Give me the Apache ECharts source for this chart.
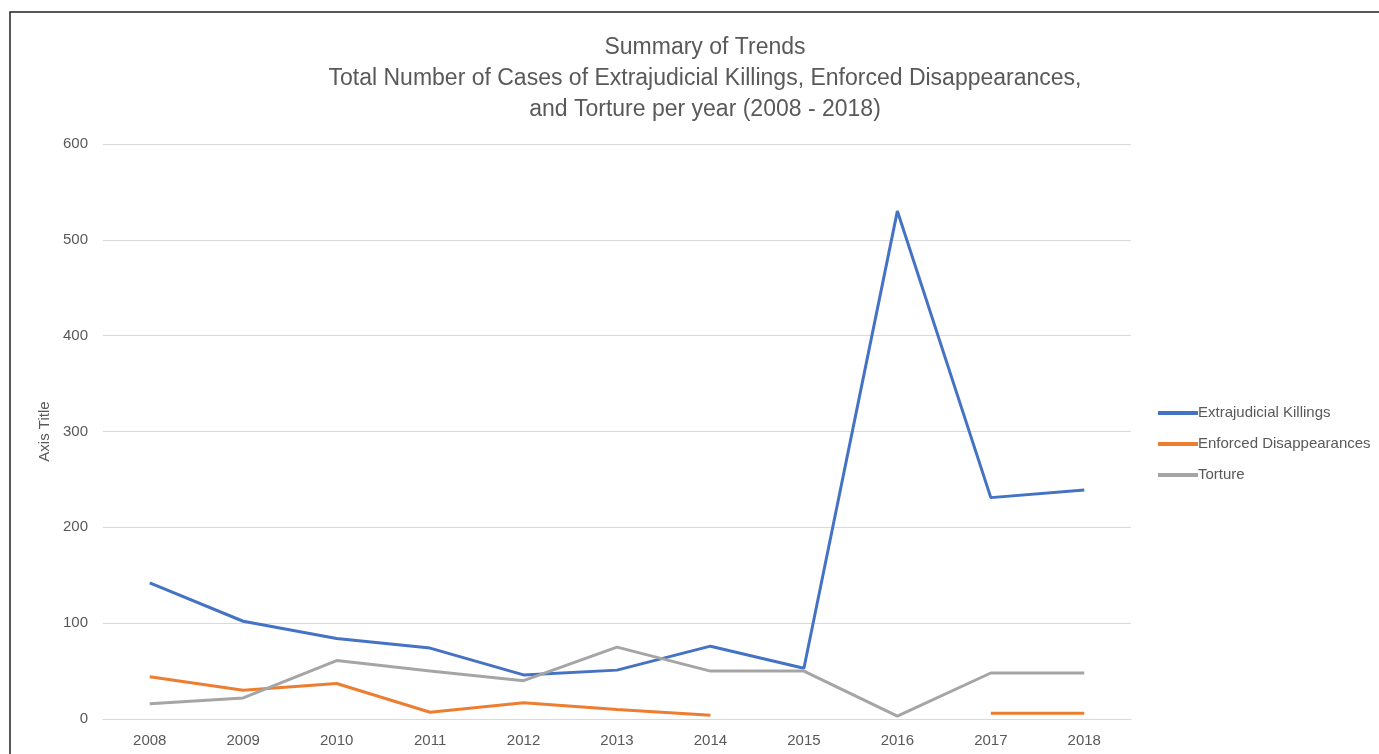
<!DOCTYPE html>
<html>
<head>
<meta charset="utf-8">
<script src="https://cdn.jsdelivr.net/npm/echarts@6/dist/echarts.min.js"></script>
<style>
html,body{margin:0;padding:0;background:#fff;}
#chart{width:1379px;height:754px;}
</style>
</head>
<body>
<div id="chart"></div>
<script>
const years = ['2008','2009','2010','2011','2012','2013','2014','2015','2016','2017','2018'];
const extrajudicialKillings = [142, 102, 84, 74, 46, 51, 76, 53, 530, 231, 239];
const enforcedDisappearances = [44, 30, 37, 7, 17, 10, 4, null, null, 6, 6];
const torture = [16, 22, 61, 50, 40, 75, 50, 50, 3, 48, 48];
const yTicks = [0, 100, 200, 300, 400, 500, 600];

const FONT = '"Liberation Sans", Arial, sans-serif';
const chart = echarts.init(document.getElementById('chart'), null, {renderer: 'canvas'});
chart.setOption({
  animation: false,
  backgroundColor: '#fff',
  title: {
    text: 'Summary of Trends\nTotal Number of Cases of Extrajudicial Killings, Enforced Disappearances,\nand Torture per year (2008 - 2018)',
    left: 700, top: 27, textAlign: 'center',
    textStyle: {fontFamily: FONT, fontSize: 23, fontWeight: 'normal', color: '#595959', lineHeight: 31}
  },
  graphic: [{
    type: 'rect', shape: {x: 10, y: 12, width: 1400, height: 800},
    style: {fill: 'none', stroke: '#222', lineWidth: 1.5}, silent: true
  }],
  legend: {
    orient: 'vertical', left: 1153, top: 399, itemGap: 13, itemWidth: 40, itemHeight: 4,
    icon: 'rect',
    textStyle: {fontFamily: FONT, fontSize: 15, color: '#595959', padding: [0,0,0,-5], lineHeight: 18},
    data: ['Extrajudicial Killings', 'Enforced Disappearances', 'Torture']
  },
  grid: {left: 103, right: 248, top: 144, bottom: 35, containLabel: false},
  xAxis: {
    type: 'category', data: years, boundaryGap: true,
    axisLine: {lineStyle: {color: '#D9D9D9', width: 1}},
    axisTick: {show: false},
    axisLabel: {fontFamily: FONT, fontSize: 15, color: '#595959', margin: 14}
  },
  yAxis: {
    type: 'value', min: yTicks[0], max: yTicks[yTicks.length-1], interval: 100,
    name: 'Axis Title', nameLocation: 'middle', nameGap: 47, nameRotate: 90,
    nameTextStyle: {fontFamily: FONT, fontSize: 15, color: '#595959'},
    axisLine: {show: false}, axisTick: {show: false},
    axisLabel: {fontFamily: FONT, fontSize: 15, color: '#595959', margin: 15},
    splitLine: {lineStyle: {color: '#D9D9D9', width: 1}}
  },
  series: [
    {name: 'Extrajudicial Killings', type: 'line', data: extrajudicialKillings, symbol: 'none',
     lineStyle: {width: 3, color: '#4472C4'}, itemStyle: {color: '#4472C4'}, connectNulls: false},
    {name: 'Enforced Disappearances', type: 'line', data: enforcedDisappearances, symbol: 'none',
     lineStyle: {width: 3, color: '#ED7D31'}, itemStyle: {color: '#ED7D31'}, connectNulls: false},
    {name: 'Torture', type: 'line', data: torture, symbol: 'none',
     lineStyle: {width: 3, color: '#A5A5A5'}, itemStyle: {color: '#A5A5A5'}, connectNulls: false}
  ]
});
</script>
</body>
</html>
